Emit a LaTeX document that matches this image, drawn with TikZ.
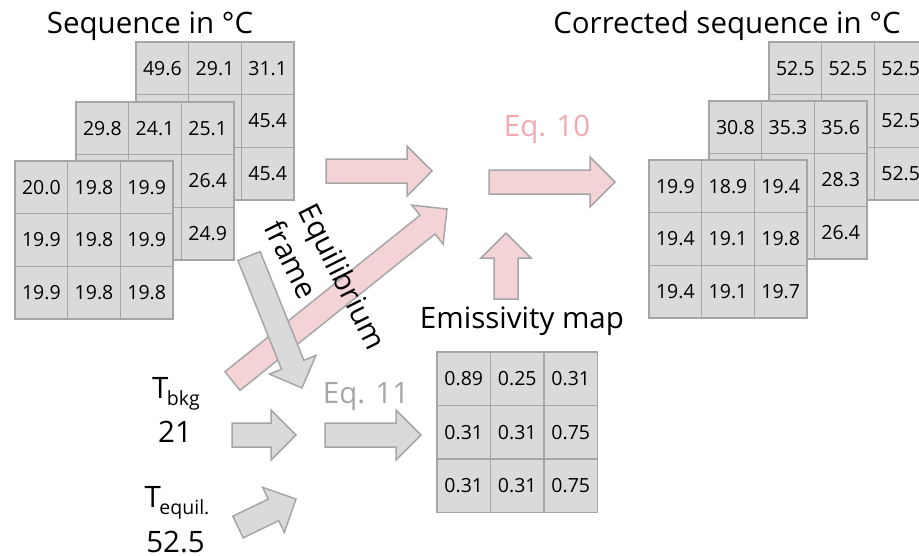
\documentclass[tikz,border=0pt]{standalone}
\usepackage{fontspec}
\setmainfont{Open Sans}
\usetikzlibrary{calc}
\definecolor{cellfill}{HTML}{DADADA}
\definecolor{edgegray}{HTML}{A6A6A6}
\definecolor{pinkfill}{HTML}{F4D3D7}
\definecolor{pinktext}{HTML}{F2A9B2}
\definecolor{graytext}{HTML}{A6A6A6}
\newcommand\cellgrid[5]{%
  \foreach \v [count=\k from 0] in {#5} {
    \pgfmathtruncatemacro\gr{int(\k/3)}
    \pgfmathtruncatemacro\gc{mod(\k,3)}
    \node[cell, minimum size=#4pt] (#1-\gr-\gc) at ({#2+(\gc+0.5)*#4},{#3+(\gr+0.5)*#4}) {\v};
  }}
\newcommand\blockarrow[3]{%
  \coordinate (ba-b) at ($(#3)!25pt!(#2)$);
  \path[#1] ($(#2)!12pt!90:(#3)$) -- ($(ba-b)!12pt!-90:(#2)$) -- ($(ba-b)!25pt!-90:(#2)$)
    -- (#3) -- ($(ba-b)!25pt!90:(#2)$) -- ($(ba-b)!12pt!90:(#2)$) -- ($(#2)!12pt!-90:(#3)$) -- cycle;
}
\newcommand\subtxt[1]{\kern-1.5pt\raisebox{-7pt}{\fontsize{19.5}{19.5}\selectfont #1}}
\begin{document}
\begin{tikzpicture}[x=1pt,y=-1pt,
  cell/.style={draw=edgegray, fill=cellfill, line width=1.5pt, inner sep=0pt,
    font=\fontsize{19.5}{19.5}\selectfont},
  big/.style={font=\fontsize{29.5}{38.6}\selectfont, inner sep=0pt},
  pinkarrow/.style={fill=pinkfill, draw=edgegray, line width=1.5pt, line join=miter},
  grayarrow/.style={fill=cellfill, draw=edgegray, line width=1.5pt, line join=miter}]
\useasboundingbox (0,0) rectangle (919,555);
\clip (0,0) rectangle (919,555);

% titles
\node[big, anchor=base] (t1) at (150,33) {Sequence in °C};
\node[big, anchor=base] (t2) at (727,33) {Corrected sequence in °C};

% left grids
\cellgrid{lb}{136}{42}{52.7}{49.6,29.1,31.1,{},{},45.4,{},{},45.4}
\cellgrid{lm}{76}{102}{52.7}{29.8,24.1,25.1,{},{},26.4,{},{},24.9}
\cellgrid{lf}{15}{161}{52.7}{20.0,19.8,19.9,19.9,19.8,19.9,19.9,19.8,19.8}
% right grids
\cellgrid{rb}{769}{42}{52.7}{52.5,52.5,52.5,{},{},52.5,{},{},52.5}
\cellgrid{rm}{709}{101}{52.7}{30.8,35.3,35.6,{},{},28.3,{},{},26.4}
\cellgrid{rf}{649}{160}{52.7}{19.9,18.9,19.4,19.4,19.1,19.8,19.4,19.1,19.7}
% emissivity grid
\cellgrid{em}{437}{352}{53.5}{0.89,0.25,0.31,0.31,0.31,0.75,0.31,0.31,0.75}

% arrow end points
\coordinate (a1t) at (326,171);  \coordinate (a1h) at (432,171);
\coordinate (a2t) at (489,182);  \coordinate (a2h) at (615,182);
\coordinate (a3t) at (506,299);  \coordinate (a3h) at (506,233);
\coordinate (a4t) at (232.5,381); \coordinate (a4h) at (447,209);
\coordinate (g1t) at (249,256);  \coordinate (g1h) at (302,388);
\coordinate (g2t) at (232,435);  \coordinate (g2h) at (296,435);
\coordinate (g3t) at (325,435);  \coordinate (g3h) at (421,435);
\coordinate (g4t) at (238,527);  \coordinate (g4h) at (296,499);

\blockarrow{pinkarrow}{a1t}{a1h}
\blockarrow{pinkarrow}{a2t}{a2h}
\blockarrow{pinkarrow}{a3t}{a3h}
\blockarrow{pinkarrow}{a4t}{a4h}
\blockarrow{grayarrow}{g1t}{g1h}
\blockarrow{grayarrow}{g2t}{g2h}
\blockarrow{grayarrow}{g3t}{g3h}
\blockarrow{grayarrow}{g4t}{g4h}

% labels
\node[big, anchor=base, text=pinktext] (eq10) at (547,136) {Eq. 10};
\node[big, anchor=base] (emis) at (522,328) {Emissivity map};
\node[big, anchor=base, text=graytext] (eq11) at (366,403) {Eq. 11};
\node[big, anchor=base] (tbkg) at (176,398) {T\subtxt{bkg}};
\node[big, anchor=base] (v21) at (175,442) {21};
\node[big, anchor=base] (teq) at (177,507) {T\subtxt{equil.}};
\node[big, anchor=base] (v525) at (175.5,552) {52.5};
\node[big, align=left, rotate=-63.4] (eqf) at (326,285) {Equilibrium\\frame};
\end{tikzpicture}
\end{document}
